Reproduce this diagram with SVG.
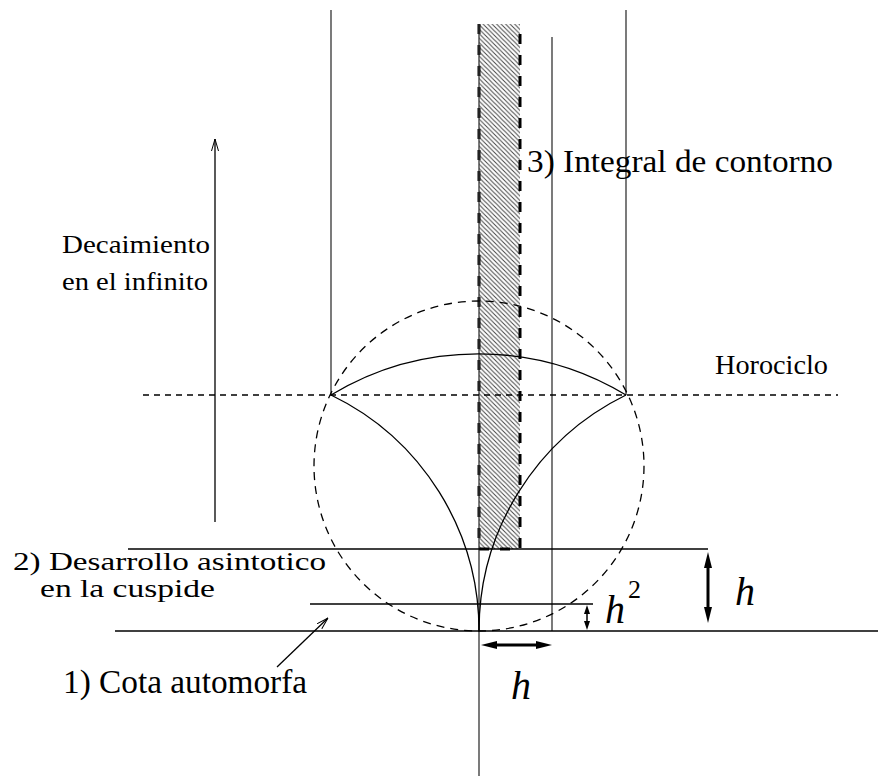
<svg xmlns="http://www.w3.org/2000/svg" width="878" height="783" viewBox="0 0 878 783">
<style>
  .ln { stroke:#000; stroke-width:1.3; fill:none; }
  .vl { stroke:#333; stroke-width:1.3; fill:none; }
  .dash { stroke:#000; stroke-width:1.3; fill:none; stroke-dasharray:6 5; }
  .circ { stroke:#000; stroke-width:1.3; fill:none; stroke-dasharray:8 6; }
  .edge { stroke:#000; stroke-width:3; fill:none; stroke-dasharray:10 11; }
  .thick { stroke:#000; stroke-width:3; fill:none; }
  .thin { stroke:#000; stroke-width:1.5; fill:none; }
</style>
<defs>
  <pattern id="hatch" patternUnits="userSpaceOnUse" width="4.5" height="4.5">
    <path d="M0,0 L4.5,4.5 M-1,3.5 L1,5.5 M3.5,-1 L5.5,1" stroke="#444" stroke-width="1"/>
  </pattern>
  <marker id="big" viewBox="0 0 16 8" refX="6" refY="4" markerWidth="16" markerHeight="8" markerUnits="userSpaceOnUse" orient="auto-start-reverse">
    <path d="M0,0 L16,4 L0,8 z" fill="#000"/>
  </marker>
  <marker id="small" viewBox="0 0 9 6" refX="4" refY="3" markerWidth="9" markerHeight="6" markerUnits="userSpaceOnUse" orient="auto-start-reverse">
    <path d="M0,0 L9,3 L0,6 z" fill="#000"/>
  </marker>
  <marker id="open" viewBox="0 0 12 8" refX="12" refY="4" markerWidth="12" markerHeight="8" markerUnits="userSpaceOnUse" orient="auto">
    <path d="M0,0.5 L12,4 L0,7.5" fill="none" stroke="#000" stroke-width="1"/>
  </marker>
</defs>

<g id="strip">
  <rect x="479" y="24" width="41" height="525" fill="url(#hatch)"/>
  <path class="edge" d="M479,24 V549 H520 V24"/>
</g>

<g id="verticals">
  <line class="vl" x1="331" y1="10" x2="331" y2="395"/>
  <line class="vl" x1="626" y1="10" x2="626" y2="395"/>
  <line class="vl" x1="552" y1="37" x2="552" y2="631"/>
  <line class="vl" x1="479" y1="24" x2="479" y2="776"/>
</g>

<g id="horociclo-line">
  <line class="dash" x1="143" y1="395" x2="838" y2="395"/>
</g>

<g id="circle">
  <circle class="circ" cx="479" cy="466" r="165"/>
</g>

<g id="domain">
  <path class="ln" d="M331,395 A285,285 0 0 1 626,395"/>
  <path class="ln" d="M331,395 A262,262 0 0 1 479,631"/>
  <path class="ln" d="M626,395 A262.5,262.5 0 0 0 479,631"/>
</g>

<g id="horizontals">
  <line class="ln" x1="115" y1="631" x2="878" y2="631"/>
  <line class="ln" x1="128" y1="549" x2="708" y2="549"/>
  <line class="ln" x1="310" y1="604" x2="593" y2="604"/>
</g>

<g id="connectors">
  <line class="ln" x1="215" y1="522" x2="215" y2="139" marker-end="url(#open)"/>
  <line class="ln" x1="277" y1="667" x2="328" y2="618" marker-end="url(#open)"/>
  <line class="thick" x1="708" y1="562" x2="708" y2="613" marker-start="url(#big)" marker-end="url(#big)"/>
  <line class="thick" x1="491" y1="645" x2="542" y2="645" marker-start="url(#big)" marker-end="url(#big)"/>
  <line class="thin" x1="587" y1="610" x2="587" y2="625" marker-start="url(#small)" marker-end="url(#small)"/>
</g>

<g id="labels" font-family="'Liberation Serif', 'Times New Roman', serif" fill="#000">
  <text x="527" y="172" font-size="32" textLength="306" lengthAdjust="spacingAndGlyphs">3) Integral de contorno</text>
  <text x="62" y="253" font-size="26" textLength="148" lengthAdjust="spacingAndGlyphs">Decaimiento</text>
  <text x="62" y="290" font-size="26" textLength="146" lengthAdjust="spacingAndGlyphs">en el infinito</text>
  <text x="715" y="374" font-size="27" textLength="113" lengthAdjust="spacingAndGlyphs">Horociclo</text>
  <text x="13" y="570" font-size="26" textLength="313" lengthAdjust="spacingAndGlyphs">2) Desarrollo asintotico</text>
  <text x="40" y="597" font-size="26" textLength="175" lengthAdjust="spacingAndGlyphs">en la cuspide</text>
  <text x="63" y="693" font-size="33" textLength="244" lengthAdjust="spacingAndGlyphs">1) Cota automorfa</text>
  <text x="735" y="605" font-size="40" font-style="italic">h</text>
  <text x="605" y="623" font-size="40" font-style="italic">h</text>
  <text x="628" y="598" font-size="26">2</text>
  <text x="511" y="699" font-size="40" font-style="italic">h</text>
</g>
</svg>
